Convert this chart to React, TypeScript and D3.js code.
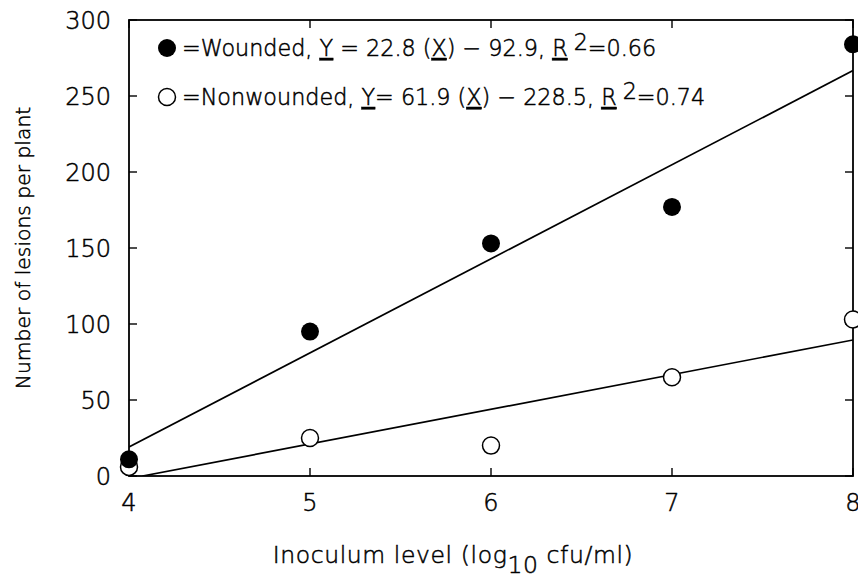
import React from 'react';
import * as d3 from 'd3';

// inoculum levels (log10 cfu/ml)
const levels = [4, 5, 6, 7, 8];
const wounded = [11, 95, 153, 177, 284];
const nonwounded = [6, 25, 20, 65, 103];

// fitted lines as drawn on the figure: [slope, intercept]
const woundedFit = [61.9, -228.5];
const nonwoundedFit = [22.8, -92.9];

const xTicks = [4, 5, 6, 7, 8];
const yTicks = [0, 50, 100, 150, 200, 250, 300];

const W = 858;
const H = 579;
const margin = { top: 20, right: 5, bottom: 103, left: 129 };
const FONT = '"DejaVu Sans", "Liberation Sans", sans-serif';

const App = () => {
  const x = d3.scaleLinear().domain([4, 8]).range([margin.left, W - margin.right]);
  const y = d3.scaleLinear().domain([0, 300]).range([H - margin.bottom, margin.top]);
  const [x0, x1] = x.range();
  const [y0, y1] = y.range();

  const fitLine = ([m, b]: number[]) => {
    const xs = [4, 8].map(v => Math.max(v, -b / m));
    return d3.line<number>().x(d => x(d)).y(d => y(m * d + b))(xs) || '';
  };

  const tickLen = 8;

  return (
    <svg width={W} height={H} style={{ position: 'absolute', left: 0, top: 0, background: '#fff' }}
      fontFamily={FONT} fontWeight={200}>
      <rect x={0} y={0} width={W} height={H} fill="#fff" />
      <defs>
        <clipPath id="plot">
          <rect x={x0} y={y1} width={x1 - x0} height={y0 - y1} />
        </clipPath>
      </defs>

      {/* frame */}
      <rect x={x0} y={y1} width={x1 - x0} height={y0 - y1} fill="none" stroke="#000" strokeWidth={1.8} />

      <g fill="#000" stroke="#000" strokeWidth={0.5}>
        {/* x ticks */}
        {xTicks.map(t => (
          <g key={'x' + t}>
            <line x1={x(t)} x2={x(t)} y1={y0} y2={y0 - tickLen} strokeWidth={1.4} />
            <line x1={x(t)} x2={x(t)} y1={y1} y2={y1 + tickLen} strokeWidth={1.4} />
            <text x={x(t)} y={y0 + 35} textAnchor="middle" fontSize={24}>{t}</text>
          </g>
        ))}

        {/* y ticks */}
        {yTicks.map(t => (
          <g key={'y' + t}>
            <line x1={x0} x2={x0 + tickLen} y1={y(t)} y2={y(t)} strokeWidth={1.4} />
            <line x1={x1} x2={x1 - tickLen} y1={y(t)} y2={y(t)} strokeWidth={1.4} />
            <text x={x0 - 18} y={y(t) + 9} textAnchor="end" fontSize={24}>{t}</text>
          </g>
        ))}

        {/* legend */}
        <text x={182} y={56} fontSize={22.3}>
          =Wounded, <tspan textDecoration="underline">Y</tspan> = 22.8 (<tspan textDecoration="underline">X</tspan>) − 92.9, <tspan textDecoration="underline">R</tspan>
          <tspan dx={6} dy={-6}>2</tspan><tspan dy={6}>=0.66</tspan>
        </text>
        <text x={182} y={105} fontSize={22.3}>
          =Nonwounded, <tspan textDecoration="underline">Y</tspan>= 61.9 (<tspan textDecoration="underline">X</tspan>) − 228.5, <tspan textDecoration="underline">R</tspan>
          <tspan dx={6} dy={-6}>2</tspan><tspan dy={6}>=0.74</tspan>
        </text>

        {/* axis titles */}
        <text transform={`translate(30,${(y0 + y1) / 2}) rotate(-90)`} textAnchor="middle" fontSize={20.3}>
          Number of lesions per plant
        </text>
        <text x={(x0 + x1) / 2 - 38} y={563} textAnchor="middle" fontSize={23.5} letterSpacing={0.6}>
          Inoculum level (log<tspan dy={10}>10</tspan><tspan dy={-10}> cfu/ml)</tspan>
        </text>
      </g>

      {/* regression lines */}
      <g clipPath="url(#plot)">
        <path d={fitLine(woundedFit)} fill="none" stroke="#000" strokeWidth={1.7} />
        <path d={fitLine(nonwoundedFit)} fill="none" stroke="#000" strokeWidth={1.7} />
      </g>

      {/* points */}
      {levels.map((l, i) => (
        <circle key={'n' + l} cx={x(l)} cy={y(nonwounded[i])} r={8.5} fill="#fff" stroke="#000" strokeWidth={1.5} />
      ))}
      {levels.map((l, i) => (
        <circle key={'w' + l} cx={x(l)} cy={y(wounded[i])} r={9} fill="#000" />
      ))}

      {/* legend markers */}
      <circle cx={167} cy={48} r={9} fill="#000" />
      <circle cx={167} cy={97} r={8.5} fill="#fff" stroke="#000" strokeWidth={1.5} />
    </svg>
  );
};

export default App;
